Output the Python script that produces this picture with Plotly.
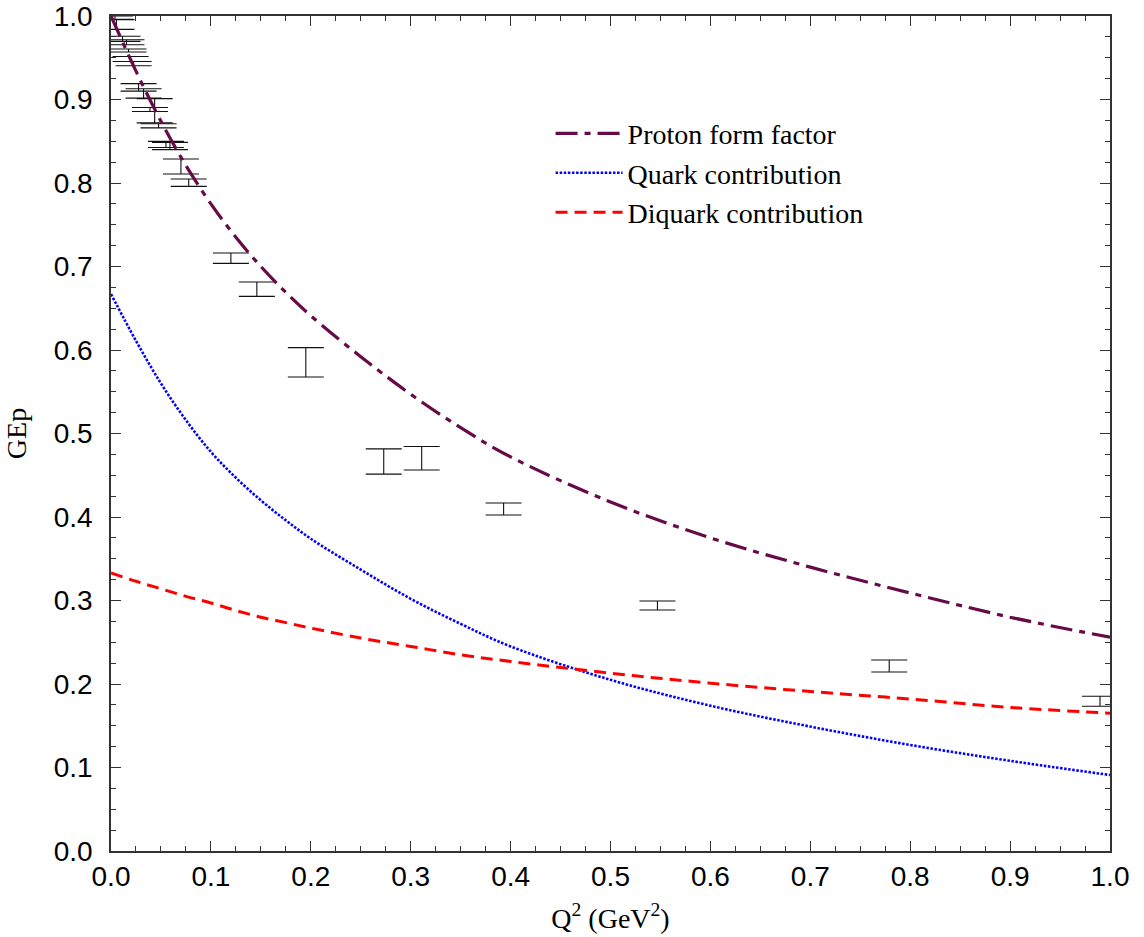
import plotly.graph_objects as go

# ---- curve data ----
q2_curve = [0, 0.025, 0.05, 0.075, 0.1, 0.125, 0.15, 0.175, 0.2, 0.25, 0.3, 0.35, 0.4,
            0.5, 0.6, 0.7, 0.8, 0.9, 1.0]
proton = [1.0, 0.934, 0.874, 0.821, 0.775, 0.735, 0.700, 0.669, 0.641, 0.592, 0.547,
          0.507, 0.472, 0.418, 0.375, 0.340, 0.309, 0.280, 0.256]
quark = [0.667, 0.611, 0.560, 0.516, 0.478, 0.447, 0.420, 0.396, 0.374, 0.337, 0.302,
         0.272, 0.245, 0.205, 0.174, 0.149, 0.127, 0.108, 0.091]
diquark = [0.333, 0.323, 0.314, 0.305, 0.297, 0.288, 0.280, 0.2735, 0.267, 0.255, 0.245,
           0.235, 0.227, 0.213, 0.201, 0.191, 0.182, 0.172, 0.165]

# ---- experimental data: Q^2, lower and upper end of error bar ----
q2_data = [0.004, 0.0055, 0.0115, 0.0155, 0.0175, 0.0196, 0.0226, 0.0276, 0.0326,
           0.039, 0.0437, 0.0476, 0.055, 0.059, 0.070, 0.0778, 0.120, 0.146,
           0.195, 0.273, 0.311, 0.393, 0.547, 0.779, 0.990]
ge_low = [0.996, 0.984, 0.9696, 0.9656, 0.9569, 0.9455, 0.9405, 0.910, 0.9016,
          0.8857, 0.872, 0.866, 0.8426, 0.840, 0.8108, 0.7959, 0.7037, 0.6642,
          0.5677, 0.4513, 0.4563, 0.4024, 0.2886, 0.2144, 0.1733]
ge_high = [1.000, 0.9956, 0.9758, 0.9716, 0.9605, 0.9515, 0.9455, 0.919, 0.9129,
           0.8905, 0.901, 0.871, 0.8498, 0.8486, 0.8287, 0.8048, 0.7162, 0.6814,
           0.6029, 0.4816, 0.4844, 0.4168, 0.2994, 0.2287, 0.1853]

x_ticks = [0.0, 0.1, 0.2, 0.3, 0.4, 0.5, 0.6, 0.7, 0.8, 0.9, 1.0]
y_ticks = [0.0, 0.1, 0.2, 0.3, 0.4, 0.5, 0.6, 0.7, 0.8, 0.9, 1.0]

fig = go.Figure()

fig.add_trace(go.Scatter(
    x=q2_data, y=ge_low, mode="markers",
    marker=dict(size=1, color="rgba(0,0,0,0)"),
    error_y=dict(type="data", symmetric=False,
                 array=[h - l for h, l in zip(ge_high, ge_low)],
                 arrayminus=[0] * len(ge_low),
                 width=18, thickness=1.1, color="#111111"),
    showlegend=False, hoverinfo="skip"))

fig.add_trace(go.Scatter(
    x=q2_curve, y=proton, mode="lines", name="Proton form factor",
    line=dict(color="#660a48", width=3.2, dash="22px,7px,6px,7px", shape="spline")))
fig.add_trace(go.Scatter(
    x=q2_curve, y=quark, mode="lines", name="Quark contribution",
    line=dict(color="#0000ff", width=2.6, dash="2.5px,1.6px", shape="spline")))
fig.add_trace(go.Scatter(
    x=q2_curve, y=diquark, mode="lines", name="Diquark contribution",
    line=dict(color="#ff0000", width=3, dash="12px,7px", shape="spline")))

axis_common = dict(
    range=[0, 1], showgrid=False, zeroline=False, automargin=False,
    showline=True, linecolor="#333333", linewidth=1.5, mirror="ticks",
    ticks="inside", ticklen=10, tickwidth=1.3, tickcolor="#333333",
    ticklabeloverflow="allow",
    tickfont=dict(family="Liberation Sans, Arial", size=28, color="black"),
    minor=dict(ticks="inside", ticklen=5, dtick=0.025, tickwidth=1.1, tickcolor="#333333"),
)

title_font = dict(family="Liberation Serif, Times New Roman", size=28, color="black")

fig.update_xaxes(
    **axis_common, tickvals=x_ticks, ticktext=[f"{v:.1f}" for v in x_ticks],
    title=dict(text="Q<sup>2</sup> (GeV<sup>2</sup>)", standoff=17, font=title_font))
fig.update_yaxes(
    **axis_common, tickvals=y_ticks, ticktext=[f"{v:.1f}" for v in y_ticks],
    ticklabelstandoff=11,
    title=dict(text="GEp", standoff=19, font=title_font))

fig.update_layout(
    width=1144, height=937,
    margin=dict(l=111, r=34, t=16, b=86),
    paper_bgcolor="white", plot_bgcolor="white",
    showlegend=True,
    legend=dict(x=0.44, y=0.889, xanchor="left", yanchor="top",
                bgcolor="rgba(0,0,0,0)", borderwidth=0,
                font=dict(family="Liberation Serif, Times New Roman", size=28, color="black"),
                itemwidth=67),
)

fig.write_html("out.html", config={"displayModeBar": False},
               post_script="document.body.style.margin='0px';")
